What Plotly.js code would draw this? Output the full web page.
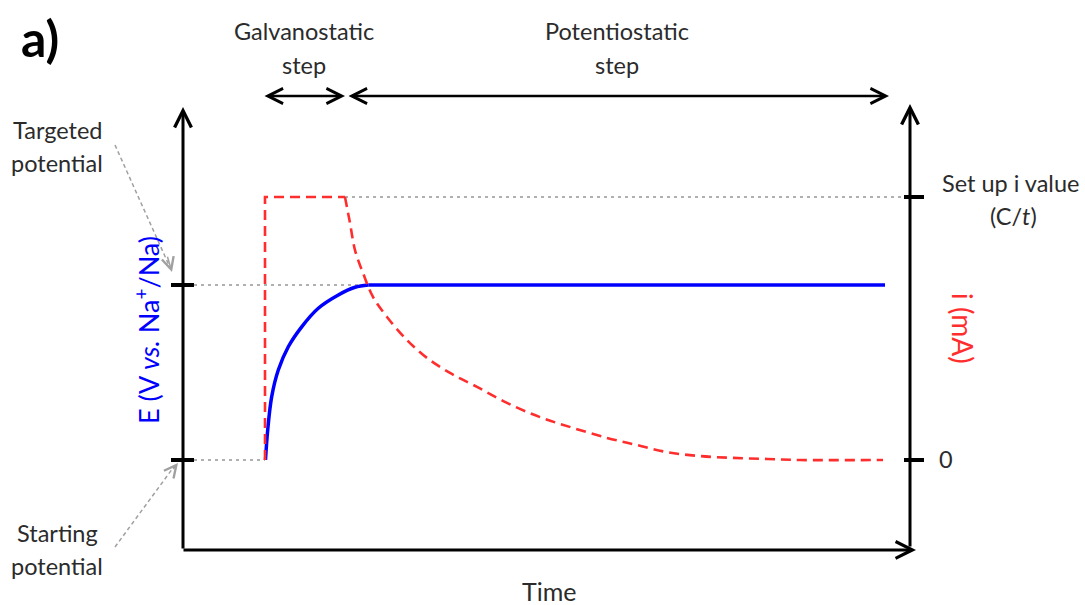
<!DOCTYPE html>
<html>
<head>
<meta charset="utf-8">
<script src="https://cdn.plot.ly/plotly-3.0.1.min.js"></script>
<style>html,body{margin:0;padding:0;background:#fff;}#chart{width:1085px;height:605px;}</style>
</head>
<body>
<div id="chart"></div>
<script>
// ---- Data (arbitrary time units; E and i normalised to targeted / set-up values) ----
const tPotentialRise = [8.25, 8.47, 8.87, 9.53, 10.53, 11.87, 13.53, 15.53, 17.2, 18.53];
const ePotentialRise = [0, 0.171, 0.362, 0.514, 0.647, 0.761, 0.867, 0.943, 0.987, 1.0];
const tPotentialHold = [18.53, 70.2];
const ePotentialHold = [1.0, 1.0];

const tCurrentGalvano = [8.2, 8.2, 16.2];
const iCurrentGalvano = [0, 1.0, 1.0];
const tCurrentDecay = [16.2, 16.7, 17.2, 18.0, 19.0, 20.4, 22.4, 24.4, 26.7, 29.4, 32.4, 35.7, 39.0, 42.4, 45.4, 48.4, 51.7, 55.0, 58.4, 61.7, 70.0];
const iCurrentDecay = [1.0, 0.901, 0.798, 0.711, 0.620, 0.544, 0.456, 0.388, 0.331, 0.278, 0.217, 0.163, 0.122, 0.084, 0.057, 0.030, 0.015, 0.008, 0.004, 0, 0];

const eTicks = [0, 1];          // starting, targeted potential
const iTicks = [0, 1];          // 0, set-up i value
const tGalvanoStart = 8.2;
const tSwitch = 16.2;
const tEnd = 70.2;
const tRightAxis = 72.7;

const W = 1085, H = 605;
const FONT = "Lato, 'Open Sans', sans-serif";
const TXT = '#2b2b2b';

function txt(px, py, text, size, color, extra){
  return Object.assign({xref:'paper', yref:'paper', x:px/W, y:1-py/H, text:text, showarrow:false,
    xanchor:'center', yanchor:'middle', font:{family:FONT, size:size, color:color||TXT}}, extra||{});
}
function arrow(t1, e1, t2, e2, opts){
  return Object.assign({xref:'x', yref:'y', axref:'x', ayref:'y', x:t2, y:e2, ax:t1, ay:e1,
    text:'', showarrow:true, arrowhead:5, arrowsize:1.1, arrowwidth:3, arrowcolor:'#000',
    standoff:0, startstandoff:0}, opts||{});
}
const RED = '#ff2e2e', BLUE = '#0000ff', GUIDE = '#b0b0b0';

const traces = [];
// gray dotted guides
traces.push({x:[1.1, 17.5], y:[eTicks[1], eTicks[1]], mode:'lines', line:{color:GUIDE, width:2, dash:'3px,4px'}});
traces.push({x:[1.1, tGalvanoStart], y:[eTicks[0], eTicks[0]], mode:'lines', line:{color:GUIDE, width:2, dash:'3px,4px'}});
traces.push({x:[tSwitch, tRightAxis-0.6], y:[iTicks[1], iTicks[1]], yaxis:'y2', mode:'lines', line:{color:GUIDE, width:2, dash:'3px,4px'}});
// pointer dashed lines
traces.push({x:[-6.8, -1.3], y:[1.80, 1.10], mode:'lines', line:{color:'#a0a0a0', width:1.5, dash:'4px,3px'}});
traces.push({x:[-6.8, -0.8], y:[-0.497, -0.03], mode:'lines', line:{color:'#a0a0a0', width:1.5, dash:'4px,3px'}});
// current (red dashed)
traces.push({x:tCurrentGalvano, y:iCurrentGalvano, yaxis:'y2', mode:'lines', line:{color:RED, width:2.6, dash:'10px,6px'}});
traces.push({x:tCurrentDecay, y:iCurrentDecay, yaxis:'y2', mode:'lines', line:{color:RED, width:2.6, dash:'10px,6px', shape:'spline', smoothing:1}});
// potential (blue)
traces.push({x:tPotentialRise, y:ePotentialRise, mode:'lines', line:{color:BLUE, width:3.5, shape:'spline', smoothing:1}});
traces.push({x:tPotentialHold, y:ePotentialHold, mode:'lines', line:{color:BLUE, width:3.5}});
// ticks
eTicks.forEach(e => traces.push({x:[-1.2, 1.1], y:[e, e], mode:'lines', line:{color:'#000', width:4}}));
iTicks.forEach(v => traces.push({x:[tRightAxis-0.6, tRightAxis+1.4], y:[v, v], yaxis:'y2', mode:'lines', line:{color:'#000', width:4}}));
traces.forEach(t => t.hoverinfo = 'skip');

const annotations = [
  // axes
  arrow(0, -0.514, 0, 2.017),
  arrow(-0.1, -0.514, 73.3, -0.514),
  arrow(tRightAxis, -0.503, tRightAxis, 2.034),
  // step arrows
  arrow(tGalvanoStart-0.2, 2.08, tSwitch, 2.08, {arrowside:'end+start', startarrowhead:5, startarrowsize:1.2, arrowwidth:2.5, arrowsize:1.2}),
  arrow(tSwitch+0.2, 2.08, tEnd+0.4, 2.08, {arrowside:'end+start', startarrowhead:5, startarrowsize:1.2, arrowwidth:2.5, arrowsize:1.2}),
  // pointer heads
  arrow(-1.6, 1.17, -1.1, 1.074, {arrowcolor:'#a0a0a0', arrowwidth:1.5, arrowsize:1.6}),
  arrow(-1.1, -0.06, -0.5, -0.017, {arrowcolor:'#a0a0a0', arrowwidth:1.5, arrowsize:1.6}),
  // texts
  txt(40, 38, '<b>a)</b>', 50, '#000'),
  txt(304, 31, 'Galvanostatic', 23.5),
  txt(304, 65, 'step', 23.5),
  txt(617, 31, 'Potentiostatic', 23.5),
  txt(617, 65, 'step', 23.5),
  txt(57, 130, 'Targeted', 23.5),
  txt(57, 163, 'potential', 23.5),
  txt(57, 533, 'Starting', 23.5),
  txt(57, 566, 'potential', 23.5),
  txt(1010, 183, 'Set up i value', 23.5),
  txt(1013, 216, '(C/<i>t</i>)', 23.5),
  txt(946, 459, '0', 23.5),
  txt(549, 591, 'Time', 25),
  txt(147, 330, 'E (V <i>vs.</i> Na<sup>+</sup>/Na)', 27, BLUE, {textangle:-90}),
  txt(963, 328, 'i (mA)', 28, RED, {textangle:90})
];

const layout = {
  width: W, height: H,
  margin: {l:0, r:0, t:0, b:0},
  paper_bgcolor:'#fff', plot_bgcolor:'#fff',
  showlegend:false,
  xaxis: {range:[-18.3, 90.2], visible:false, fixedrange:true},
  yaxis: {range:[-145/175, 460/175], visible:false, fixedrange:true},
  yaxis2: {range:[-145/263, 460/263], overlaying:'y', visible:false, fixedrange:true},
  annotations: annotations
};

Plotly.newPlot('chart', traces, layout, {staticPlot:true, displayModeBar:false});
</script>
</body>
</html>
